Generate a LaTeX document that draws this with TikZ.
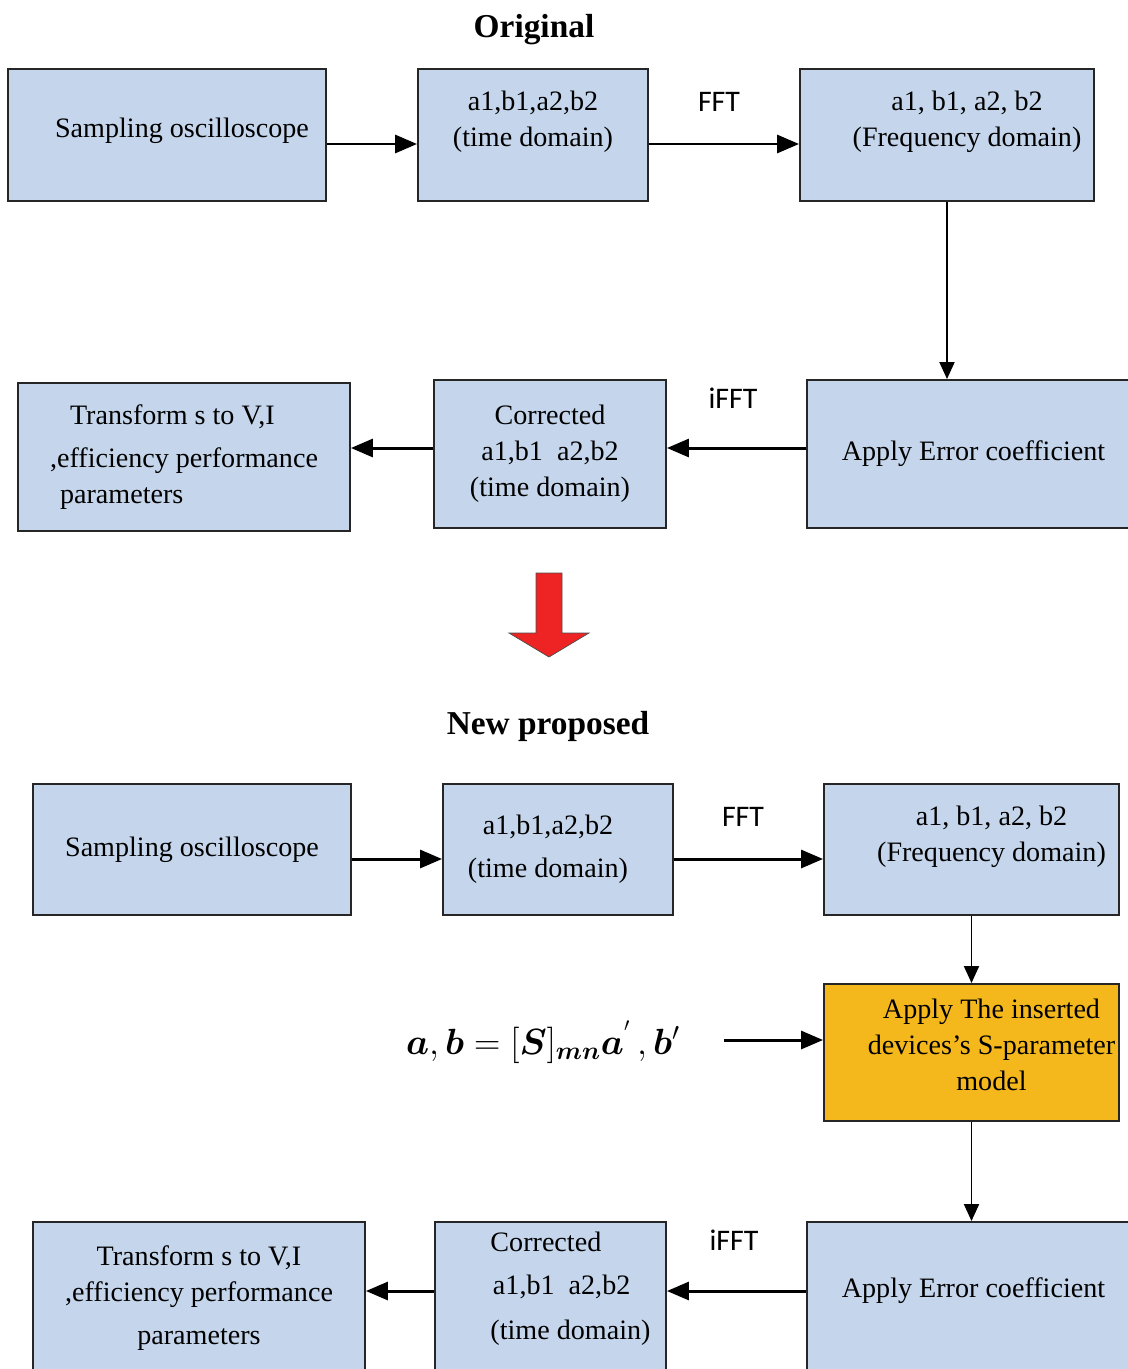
\documentclass[tikz,border=0pt]{standalone}
\usepackage{amsmath,bm}
\usepackage{fontspec}
\setmainfont{Liberation Serif}
\newfontfamily\calfont{Carlito}
\usetikzlibrary{arrows.meta}
\definecolor{boxblue}{HTML}{C5D6EC}
\definecolor{modelorange}{HTML}{F4B81C}
\definecolor{downred}{HTML}{EE2424}

\begin{document}
\begin{tikzpicture}[x=0.02cm,y=-0.02cm,font=\fontsize{16}{20.5}\selectfont,
  box/.style={draw=black!85,line width=1.1pt,fill=boxblue,inner sep=0pt,align=center},
  flow/.style={line width=1.7pt,-{Triangle[length=4.4mm,width=3.6mm]}},
  down/.style={line width=1.1pt,-{Triangle[length=3.4mm,width=3mm]}},
  ttl/.style={font=\bfseries\fontsize{19}{23}\selectfont},
  fftlbl/.style={font=\calfont\fontsize{17}{20}\selectfont}]
\useasboundingbox (0,0) rectangle (1127,1369);

% original chain
\node[ttl] (orig) at (534,30) {Original};
\node[box,minimum width=6.36cm,minimum height=2.64cm,text depth=0.3cm] (samp1) at (167,135) {\hspace*{0.6cm}Sampling oscilloscope};
\node[box,minimum width=4.6cm,minimum height=2.64cm,text depth=0.66cm] (tdom1) at (533,135) {a1,b1,a2,b2\\(time domain)};
\node[box,minimum width=5.88cm,minimum height=2.64cm,text depth=0.66cm] (fdom1) at (947,135) {\hspace*{0.8cm}a1, b1, a2, b2\\\hspace*{0.8cm}(Frequency domain)};
\node[box,minimum width=6.66cm,minimum height=2.96cm] (errc1) at (973.5,454) {Apply Error coefficient};
\node[box,minimum width=4.64cm,minimum height=2.96cm] (corr1) at (550,454) {Corrected\\a1,b1\ \ a2,b2\\(time domain)};
\node[box,minimum width=6.64cm,minimum height=2.96cm,align=left] (trans1) at (184,457) {\hspace*{0.4cm}Transform s to V,I\\[4pt],efficiency performance\\\hspace*{0.2cm}parameters};
\node[fftlbl] (fft1) at (719,102) {FFT};
\node[fftlbl] (ifft1) at (733,398) {iFFT};

\draw[flow] ([yshift=-0.18cm]samp1.east) -- ([yshift=-0.18cm]tdom1.west);
\draw[flow] ([yshift=-0.18cm]tdom1.east) -- ([yshift=-0.18cm]fdom1.west);
\draw[down] (fdom1.south) -- (errc1.north -| fdom1.south);
\draw[flow] ([yshift=0.12cm]errc1.west) -- ([yshift=0.12cm]corr1.east);
\draw[flow] ([yshift=0.12cm]corr1.west) -- ([yshift=0.12cm]corr1.west -| trans1.east);

% big red arrow
\draw[fill=downred,draw=black!70,line width=0.4pt] (536,573) -- (562,573) -- (562,633) -- (589,633)
  -- (549,657) -- (509,633) -- (536,633) -- cycle;

% new proposed chain
\node[ttl] (newp) at (548,726) {New proposed};
\node[box,minimum width=6.36cm,minimum height=2.62cm] (samp2) at (192,849.5) {Sampling oscilloscope};
\node[box,minimum width=4.6cm,minimum height=2.62cm] (tdom2) at (558,849.5) {a1,b1,a2,b2\hspace*{0.4cm}\\[4pt](time domain)\hspace*{0.4cm}};
\node[box,minimum width=5.9cm,minimum height=2.62cm,text depth=0.62cm] (fdom2) at (971.5,849.5) {\hspace*{0.8cm}a1, b1, a2, b2\\\hspace*{0.8cm}(Frequency domain)};
\node[box,fill=modelorange,minimum width=5.9cm,minimum height=2.74cm,text depth=0.3cm] (model2) at (971.5,1052.5)
  {\hspace*{0.8cm}Apply The inserted\\\hspace*{0.8cm}devices’s S-parameter\\\hspace*{0.8cm}model};
\node[font=\fontsize{22}{26}\selectfont] (sparam) at (543,1042)
  {$\bm{a},\bm{b}=[\bm{S}]_{\bm{mn}}\bm{a}^{'}\,,\bm{b}'$};
\coordinate (sfrom) at (724,1040);
\node[box,minimum width=6.66cm,minimum height=3.06cm,text depth=0.45cm] (errc2) at (973.5,1298.5) {Apply Error coefficient};
\node[box,minimum width=4.62cm,minimum height=3.06cm,align=left,text depth=0.5cm] (corr2) at (550.5,1298.5)
  {\hspace*{0.8cm}Corrected\\[4pt]\hspace*{0.85cm}a1,b1\ \ a2,b2\\[5pt]\hspace*{0.8cm}(time domain)};
\node[box,minimum width=6.64cm,minimum height=3.06cm] (trans2) at (199,1298.5) {Transform s to V,I\\,efficiency performance\\[4pt]parameters};
\node[fftlbl] (fft2) at (743,817) {FFT};
\node[fftlbl] (ifft2) at (734,1240) {iFFT};

\draw[flow] ([yshift=-0.19cm]samp2.east) -- ([yshift=-0.19cm]tdom2.west);
\draw[flow] ([yshift=-0.19cm]tdom2.east) -- ([yshift=-0.19cm]fdom2.west);
\draw[down] (fdom2.south) -- (model2.north);
\draw[flow] (sfrom) -- (sfrom -| model2.west);
\draw[down] (model2.south) -- (errc2.north -| model2.south);
\draw[flow] ([yshift=0.15cm]errc2.west) -- ([yshift=0.15cm]corr2.east);
\draw[flow] ([yshift=0.15cm]corr2.west) -- ([yshift=0.15cm]corr2.west -| trans2.east);
\end{tikzpicture}
\end{document}
